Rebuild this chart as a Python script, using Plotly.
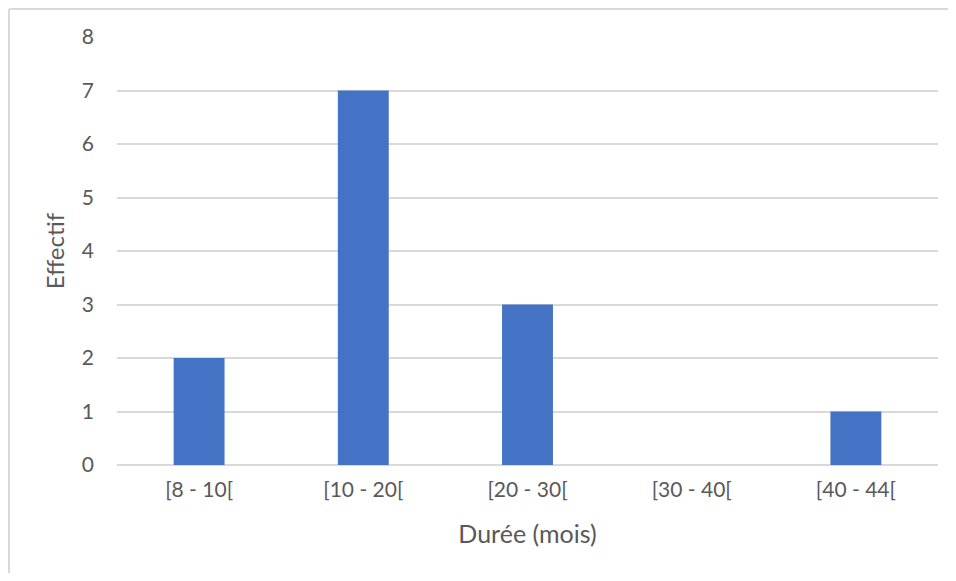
import plotly.graph_objects as go

# données
classes = ["[8 - 10[", "[10 - 20[", "[20 - 30[", "[30 - 40[", "[40 - 44["]
effectifs = [2, 7, 3, 0, 1]

police = "Lato, 'Open Sans', sans-serif"
gris_texte = "#595959"
gris_ligne = "#D9D9D9"

fig = go.Figure()
fig.add_bar(
    x=classes,
    y=effectifs,
    marker=dict(color="#4472C4", line=dict(width=0)),
)

# la page ajoute 8 px de marge autour de la figure -> taille réduite pour éviter le défilement
fig.update_layout(
    width=940,
    height=565,
    plot_bgcolor="white",
    paper_bgcolor="white",
    showlegend=False,
    bargap=0.69,
    margin=dict(l=109, r=10, t=29, b=108),
    font=dict(family=police, size=21, color=gris_texte),
    xaxis=dict(
        title=dict(text="Durée (mois)", font=dict(size=25), standoff=25),
        showgrid=False,
        showline=False,
        ticks="",
        ticklabelstandoff=10,
    ),
    yaxis=dict(
        title=dict(text="Effectif", font=dict(size=24), standoff=10),
        range=[0, 8],
        dtick=1,
        showgrid=True,
        gridcolor=gris_ligne,
        gridwidth=2,
        zeroline=True,
        zerolinecolor=gris_ligne,
        zerolinewidth=2,
        ticks="",
        ticklabelstandoff=22,
    ),
)

# cadre du graphique (façon Excel) : seuls les bords gauche et haut sont visibles
x_cadre = -108 / 821
y_cadre = 1 + 28 / 428
fig.add_shape(type="line", xref="paper", yref="paper",
              x0=x_cadre, x1=x_cadre, y0=-0.5, y1=y_cadre,
              line=dict(color=gris_ligne, width=2), layer="below")
fig.add_shape(type="line", xref="paper", yref="paper",
              x0=x_cadre, x1=1.3, y0=y_cadre, y1=y_cadre,
              line=dict(color=gris_ligne, width=2), layer="below")

fig.write_html("out.html")
